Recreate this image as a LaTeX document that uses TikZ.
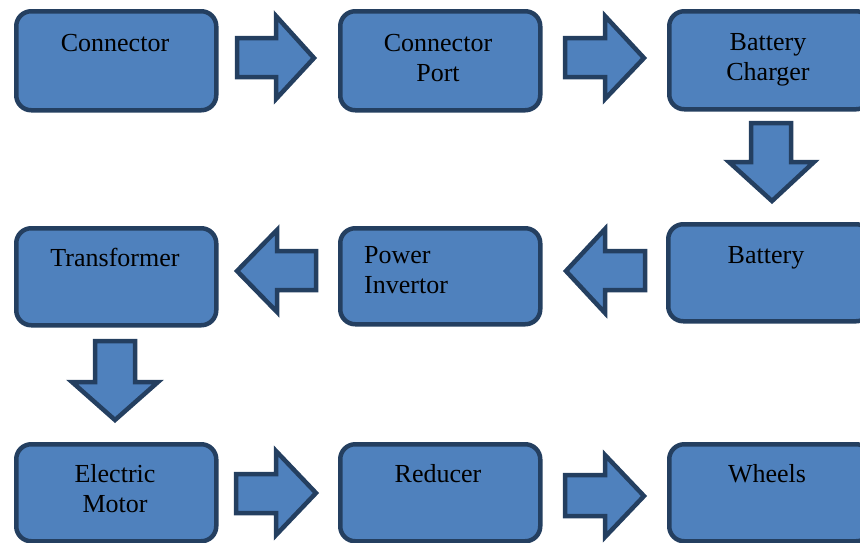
\documentclass[tikz,border=0pt]{standalone}
\usepackage{fontspec}
\setmainfont{Liberation Serif}
\definecolor{boxfill}{HTML}{4F81BD}
\definecolor{boxline}{HTML}{243F60}
\begin{document}
\begin{tikzpicture}[x=1pt,y=-1pt,
  blk/.style={draw=boxline,fill=boxfill,line width=4.5pt,rounded corners=15pt},
  barrow/.style={draw=boxline,fill=boxfill,line width=4.5pt,line join=miter},
  txt/.style={font=\fontsize{26}{30.5}\selectfont,inner sep=0pt,text=black}]
\useasboundingbox (0,0) rectangle (860,542);
\clip (0,0) rectangle (860,542);
% boxes
\node[blk,anchor=north west,minimum width=200pt,minimum height=99pt] (connector) at (14,9) {};
\node[blk,anchor=north west,minimum width=200pt,minimum height=99pt] (port) at (338,9) {};
\node[blk,anchor=north west,minimum width=202pt,minimum height=98pt] (charger) at (667,9) {};
\node[blk,anchor=north west,minimum width=200pt,minimum height=97pt] (transformer) at (14,226) {};
\node[blk,anchor=north west,minimum width=200pt,minimum height=96pt] (invertor) at (338,226) {};
\node[blk,anchor=north west,minimum width=203pt,minimum height=97pt] (battery) at (666,222) {};
\node[blk,anchor=north west,minimum width=200pt,minimum height=97pt] (motor) at (14,442) {};
\node[blk,anchor=north west,minimum width=200pt,minimum height=97pt] (reducer) at (338,442) {};
\node[blk,anchor=north west,minimum width=202pt,minimum height=97pt] (wheels) at (667,442) {};
% texts (multi-line nodes: base = last line's baseline)
\node[txt,anchor=base] (t1) at (115,51) {Connector};
\node[txt,anchor=base,align=center] (t2) at (438,81.5) {Connector\\Port};
\node[txt,anchor=base,align=center] (t3) at (768,80.5) {Battery\\Charger};
\node[txt,anchor=base] (t4) at (115,266) {Transformer};
\node[txt,anchor=base west,align=left] (t5) at (364,293.5) {Power\\Invertor};
\node[txt,anchor=base] (t6) at (766,263) {Battery};
\node[txt,anchor=base,align=center] (t7) at (115,512.5) {Electric\\Motor};
\node[txt,anchor=base] (t8) at (438,482) {Reducer};
\node[txt,anchor=base] (t9) at (767,482) {Wheels};
% block arrows
\draw[barrow] (237,38) -- (276,38) -- (276,16) -- (314,58) -- (276,99) -- (276,77) -- (237,77) -- cycle;
\draw[barrow] (565,38) -- (605,38) -- (605,16) -- (644,58) -- (605,99) -- (605,77) -- (565,77) -- cycle;
\draw[barrow] (751,123) -- (791,123) -- (791,162) -- (814,162) -- (772,201) -- (729,162) -- (751,162) -- cycle;
\draw[barrow] (645,251) -- (605,251) -- (605,229) -- (566,271) -- (605,313) -- (605,290) -- (645,290) -- cycle;
\draw[barrow] (316,251) -- (277,251) -- (277,230) -- (237,271) -- (277,312) -- (277,290) -- (316,290) -- cycle;
\draw[barrow] (95,341) -- (135,341) -- (135,382) -- (158,382) -- (115,420) -- (72,382) -- (95,382) -- cycle;
\draw[barrow] (236,474) -- (276,474) -- (276,451) -- (316,493) -- (276,535) -- (276,513) -- (236,513) -- cycle;
\draw[barrow] (565,475) -- (605,475) -- (605,455) -- (644,496) -- (605,537) -- (605,516) -- (565,516) -- cycle;
\end{tikzpicture}
\end{document}
